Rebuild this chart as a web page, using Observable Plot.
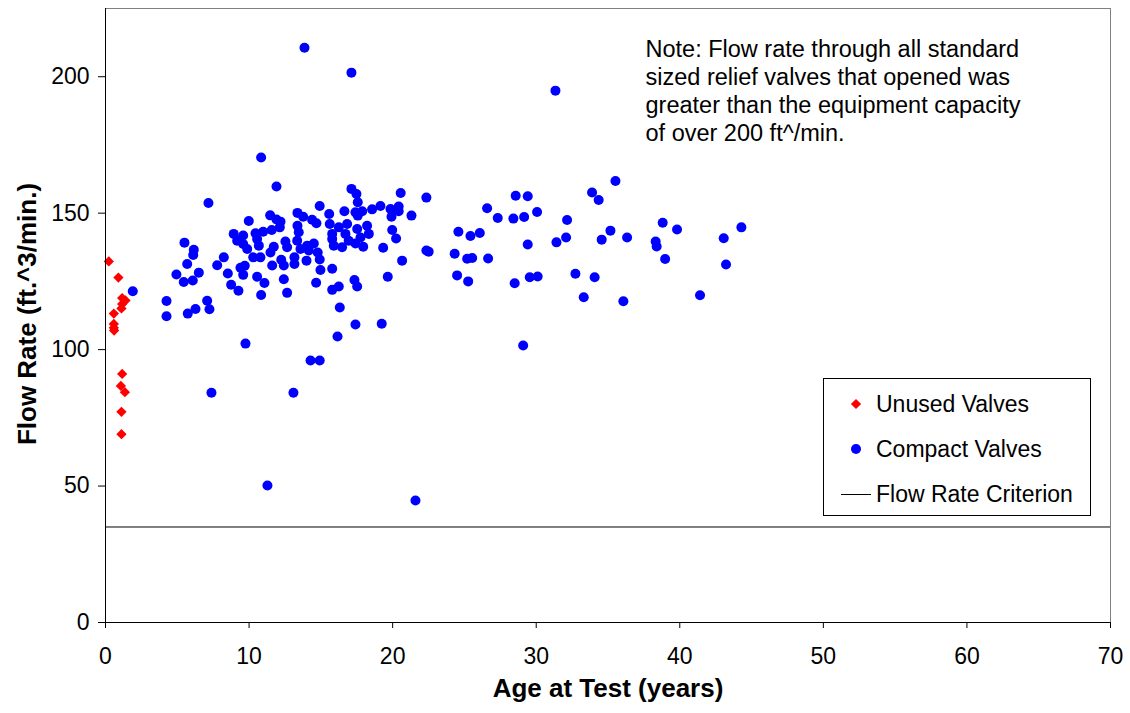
<!DOCTYPE html>
<html>
<head>
<meta charset="utf-8">
<script src="https://cdn.jsdelivr.net/npm/d3@7"></script>
<script src="https://cdn.jsdelivr.net/npm/@observablehq/plot@0.6"></script>
<style>
  body { margin: 0; background: #fff; }
  #wrap { position: relative; width: 1130px; height: 713px; font-family: "Liberation Sans", Arial, sans-serif; color: #000; }
  #legend { position: absolute; left: 823px; top: 378px; width: 268px; height: 138px; border: 1px solid #000; background: #fff; box-sizing: border-box; font-size: 23px; }
  #legend .row { position: absolute; left: 0; height: 30px; width: 100%; }
  #legend .row span { position: absolute; left: 52px; top: 0; line-height: 30px; white-space: nowrap; }
  #legend svg { position: absolute; left: 0; top: 0; }
  #ytitle { position: absolute; left: 27px; top: 314px; transform: translate(-50%, -50%) rotate(-90deg); font-size: 26px; font-weight: bold; white-space: nowrap; line-height: 1; }
</style>
</head>
<body>
<div id="wrap"></div>
<script>
// ---- data ----
const xTicks = [0, 10, 20, 30, 40, 50, 60, 70];
const yTicks = [0, 50, 100, 150, 200];
const criterion = [35];
const xTitle = "Age at Test (years)";
const yTitle = "Flow Rate (ft.^3/min.)";
const noteLines = [
  "Note: Flow rate through all standard",
  "sized relief valves that opened was",
  "greater than the equipment capacity",
  "of over 200 ft^/min."
];
const seriesNames = ["Unused Valves", "Compact Valves", "Flow Rate Criterion"];

// [age at test (years), flow rate (ft^3/min)]
const unusedValves = [
  [0.23,132.3],[0.90,126.4],[1.16,118.9],[1.39,118.0],[1.16,116.7],[1.11,115.1],
  [0.58,113.2],[0.58,109.4],[0.58,108.0],[0.60,107.0],[1.16,91.1],[1.07,86.7],
  [1.35,84.4],[1.11,77.2],[1.11,69.0]
];

const compactValves = [
  [10.84,170.4],[11.91,159.8],[7.17,153.7],[9.98,147.1],[11.47,149.2],[11.91,147.7],
  [12.19,146.9],[12.14,144.8],[13.37,150.1],[13.37,145.4],[8.93,142.4],[9.59,141.8],
  [9.17,139.9],[10.45,142.6],[10.98,143.2],[11.58,143.8],[10.56,140.5],[9.59,138.7],
  [9.87,136.9],[10.68,138.1],[11.72,137.7],[12.53,139.6],[12.65,137.5],[13.35,139.9],
  [11.49,135.6],[10.29,133.8],[10.79,133.8],[12.24,132.9],[12.42,130.8],[13.16,133.8],
  [13.16,131.4],[11.61,130.8],[5.50,139.2],[6.15,136.6],[6.11,134.7],[8.24,133.8],
  [7.78,130.9],[5.69,131.4],[6.50,128.2],[4.94,127.5],[5.45,124.8],[6.08,125.3],
  [8.52,127.9],[9.40,130.0],[9.70,130.7],[9.59,127.4],[10.56,126.7],[11.07,124.4],
  [12.42,125.8],[8.75,123.8],[9.26,121.6],[10.84,120.0],[12.65,120.8],[4.25,117.8],
  [4.25,112.2],[5.73,113.2],[6.27,114.9],[7.08,117.9],[7.24,114.8],[9.75,102.2],
  [17.13,158.9],[17.48,157.0],[17.57,154.0],[20.56,157.4],[22.35,155.7],[14.92,152.6],
  [15.58,149.7],[16.64,150.7],[17.41,150.3],[17.88,150.7],[18.57,151.4],[19.15,152.6],
  [19.85,151.5],[20.42,152.4],[20.42,150.7],[19.92,148.7],[21.31,149.1],[17.57,149.1],
  [13.77,148.7],[14.39,147.6],[14.69,146.3],[15.62,146.0],[16.25,144.8],[16.83,146.0],
  [17.53,144.2],[18.22,145.4],[18.34,142.4],[17.76,141.1],[15.79,142.4],[16.71,142.4],
  [13.46,143.0],[14.05,138.1],[14.51,138.9],[13.58,136.9],[14.16,136.3],[14.78,135.6],
  [15.79,140.5],[15.90,138.1],[16.48,137.5],[16.94,139.9],[17.41,138.9],[17.95,137.7],
  [14.00,132.6],[14.92,133.0],[14.97,129.2],[15.79,129.6],[19.34,137.3],[19.97,143.8],
  [20.24,140.7],[20.66,132.6],[22.35,136.3],[22.51,135.9],[14.67,124.5],[15.79,121.9],
  [16.25,123.1],[17.34,125.5],[17.53,123.1],[19.66,126.7],[16.32,115.4],[17.41,109.2],
  [19.24,109.5],[16.16,104.8],[14.28,96.0],[14.92,96.0],
  [28.57,156.4],[29.41,156.2],[35.52,161.8],[33.89,157.6],[34.35,154.8],[26.58,151.8],
  [27.32,148.2],[28.41,148.0],[29.16,148.6],[30.06,150.4],[32.15,147.5],[38.81,146.5],
  [39.81,144.0],[44.29,144.8],[43.06,140.8],[24.58,143.2],[25.42,141.6],[26.07,142.7],
  [29.41,138.5],[31.41,139.3],[32.08,141.1],[35.17,143.6],[34.56,140.3],[36.33,141.1],
  [38.32,139.6],[38.39,137.8],[24.32,135.1],[25.19,133.3],[25.54,133.6],[26.65,133.4],
  [38.98,133.2],[43.22,131.2],[24.49,127.2],[25.26,125.0],[28.50,124.3],[29.55,126.5],
  [30.10,126.8],[32.73,127.8],[34.07,126.5],[33.31,119.2],[36.07,117.7],[41.41,119.9],
  [29.09,101.5],
  [1.90,121.4],[21.59,44.7],[11.28,50.2],[7.38,84.2],[13.09,84.2],[13.86,210.6],
  [17.13,201.5],[31.34,194.9]
];

// ---- chart ----
const font = "'Liberation Sans', Arial, sans-serif";
const chart = Plot.plot({
  width: 1130,
  height: 713,
  marginLeft: 105,
  marginRight: 20,
  marginTop: 8,
  marginBottom: 91,
  style: { fontFamily: font, background: "#fff", color: "#000", overflow: "visible" },
  x: { domain: [0, 70] },
  y: { domain: [0, 225] },
  marks: [
    Plot.frame({ stroke: "#808080" }),
    Plot.ruleY(criterion, { stroke: "#000", strokeWidth: 1 }),
    Plot.dot(compactValves, { x: d => d[0], y: d => d[1], r: 5, symbol: "circle", fill: "#0000ff" }),
    Plot.dot(unusedValves, { x: d => d[0], y: d => d[1], r: 4.1, symbol: "square", rotate: 45, fill: "#ff0000" }),
    Plot.ruleX([0], { stroke: "#000" }),
    Plot.ruleY([0], { stroke: "#000" }),
    Plot.axisX({ ticks: xTicks, tickSize: 6, tickPadding: 19, fontSize: 23, label: null, tickFormat: d => String(d) }),
    Plot.axisY({ ticks: yTicks, tickSize: 7, tickPadding: 9, fontSize: 23, label: null, tickFormat: d => String(d) }),
    Plot.text([xTitle], { frameAnchor: "bottom", dy: 74, fontSize: 26, fontWeight: "bold" }),
    Plot.text([noteLines.join("\n")], { frameAnchor: "top-left", dx: 540, dy: 28, textAnchor: "start", lineAnchor: "top", lineHeight: 1.2, fontSize: 23.5 })
  ]
});

const wrap = document.getElementById("wrap");
wrap.appendChild(chart);

// y-axis title
const yt = document.createElement("div");
yt.id = "ytitle";
yt.textContent = yTitle;
wrap.appendChild(yt);

// legend
const legend = document.createElement("div");
legend.id = "legend";
const rows = [
  { name: seriesNames[0], top: 10, sym: '<rect x="-3.6" y="-3.6" width="7.2" height="7.2" fill="#ff0000" transform="rotate(45)"/>' },
  { name: seriesNames[1], top: 55, sym: '<circle r="5" fill="#0000ff"/>' },
  { name: seriesNames[2], top: 100, sym: '<line x1="-15" x2="15" y1="0.5" y2="0.5" stroke="#000" stroke-width="1"/>' }
];
for (const r of rows) {
  const row = document.createElement("div");
  row.className = "row";
  row.style.top = r.top + "px";
  row.innerHTML = `<svg width="50" height="30"><g transform="translate(32,15)">${r.sym}</g></svg><span>${r.name}</span>`;
  legend.appendChild(row);
}
wrap.appendChild(legend);
</script>
</body>
</html>
